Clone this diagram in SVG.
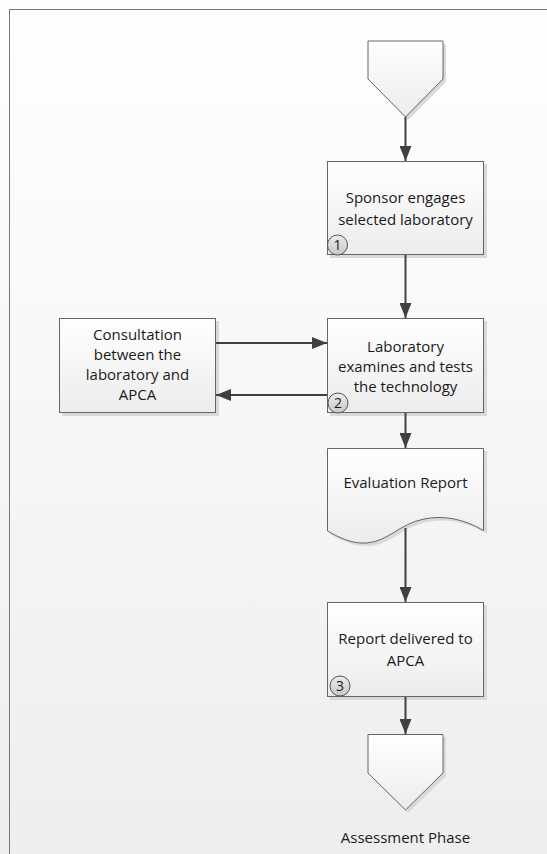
<svg xmlns="http://www.w3.org/2000/svg" width="547" height="854" viewBox="0 0 547 854">
<defs>
<linearGradient id="bg" x1="0" y1="0" x2="0" y2="1"><stop offset="0" stop-color="#ffffff"/><stop offset="1" stop-color="#eeeeee"/></linearGradient>
<linearGradient id="fill" x1="0" y1="0" x2="0" y2="1"><stop offset="0" stop-color="#ffffff"/><stop offset="1" stop-color="#ececec"/></linearGradient>
<linearGradient id="badge" x1="0" y1="0" x2="0" y2="1"><stop offset="0" stop-color="#ececec"/><stop offset="1" stop-color="#c8c8c8"/></linearGradient>
<marker id="ah" viewBox="0 0 15 12" refX="15" refY="6" markerWidth="15" markerHeight="12" orient="auto" markerUnits="userSpaceOnUse"><path d="M0,0 L15,6 L0,12 z" fill="#404040"/></marker>
</defs>
<style>
.shape{fill:url(#fill);stroke:#666666;stroke-width:1}
.shadow{fill:#d9d9d9;stroke:none}
.lbl{font-family:"Open Sans","Liberation Sans",sans-serif;font-size:15px;fill:#1a1a1a;text-anchor:middle}
.num{font-family:"Open Sans","Liberation Sans",sans-serif;font-size:14px;fill:#1a1a1a;text-anchor:middle}
.badge{fill:url(#badge);stroke:#555555;stroke-width:1}
.conn{stroke:#404040;stroke-width:2;fill:none;marker-end:url(#ah)}
</style>
<rect x="0" y="0" width="547" height="854" fill="url(#bg)"/>
<rect x="9.5" y="9.5" width="560" height="870" fill="none" stroke="#777777" stroke-width="1"/>

<g id="start">
<path class="shadow" d="M371,44 L446,44 L446,82 L408,120 L371,82 z"/>
<path class="shape" d="M368,41 L443,41 L443,79 L405.5,117 L368,79 z"/>
</g>

<g id="sponsor">
<rect class="shadow" x="330" y="164" width="157" height="94"/>
<rect class="shape" x="327.5" y="161.5" width="156" height="93"/>
<text class="lbl" x="405.5" y="203">Sponsor engages</text>
<text class="lbl" x="405.5" y="225">selected laboratory</text>
<circle class="badge" cx="337.5" cy="245" r="10"/>
<text class="num" x="337.5" y="250">1</text>
</g>

<g id="consult">
<rect class="shadow" x="62" y="321" width="157" height="95"/>
<rect class="shape" x="59.5" y="318.5" width="156" height="94"/>
<text class="lbl" x="137.5" y="340">Consultation</text>
<text class="lbl" x="137.5" y="360">between the</text>
<text class="lbl" x="137.5" y="380">laboratory and</text>
<text class="lbl" x="137.5" y="400">APCA</text>
</g>

<g id="lab">
<rect class="shadow" x="330" y="321" width="157" height="95"/>
<rect class="shape" x="327.5" y="318.5" width="156" height="94"/>
<text class="lbl" x="405.5" y="352">Laboratory</text>
<text class="lbl" x="405.5" y="372">examines and tests</text>
<text class="lbl" x="405.5" y="392">the technology</text>
<circle class="badge" cx="338" cy="403" r="10"/>
<text class="num" x="338" y="408">2</text>
</g>

<g id="report">
<path class="shadow" d="M330,451 L487,451 L487,534 C467,522 447,518 427,522 C402,527 392,544 370,546 C355,547 342,541 330,534 z"/>
<path class="shape" d="M327.5,448.5 L483.5,448.5 L483.5,530.5 C464,519 444,515 424,519 C399,524 389,541 367,543 C352,544 340,538 327.5,531 z"/>
<text class="lbl" x="405.5" y="488">Evaluation Report</text>
</g>

<g id="delivered">
<rect class="shadow" x="330" y="605" width="157" height="95"/>
<rect class="shape" x="327.5" y="602.5" width="156" height="94"/>
<text class="lbl" x="405.5" y="644">Report delivered to</text>
<text class="lbl" x="405.5" y="666">APCA</text>
<circle class="badge" cx="340" cy="686" r="10"/>
<text class="num" x="340" y="691">3</text>
</g>

<g id="end">
<path class="shadow" d="M371,737 L446,737 L446,776 L408,813 L371,776 z"/>
<path class="shape" d="M368,734.5 L443,734.5 L443,773 L405.5,810 L368,773 z"/>
<text class="lbl" x="405.5" y="843">Assessment Phase</text>
</g>

<g id="connectors">
<line class="conn" x1="405.5" y1="117" x2="405.5" y2="161"/>
<line class="conn" x1="405.5" y1="255" x2="405.5" y2="318"/>
<line class="conn" x1="216" y1="343" x2="327" y2="343"/>
<line class="conn" x1="327" y1="395" x2="216" y2="395"/>
<line class="conn" x1="405.5" y1="413" x2="405.5" y2="448"/>
<line class="conn" x1="405.5" y1="528" x2="405.5" y2="602"/>
<line class="conn" x1="405.5" y1="697" x2="405.5" y2="734"/>
</g>
</svg>
